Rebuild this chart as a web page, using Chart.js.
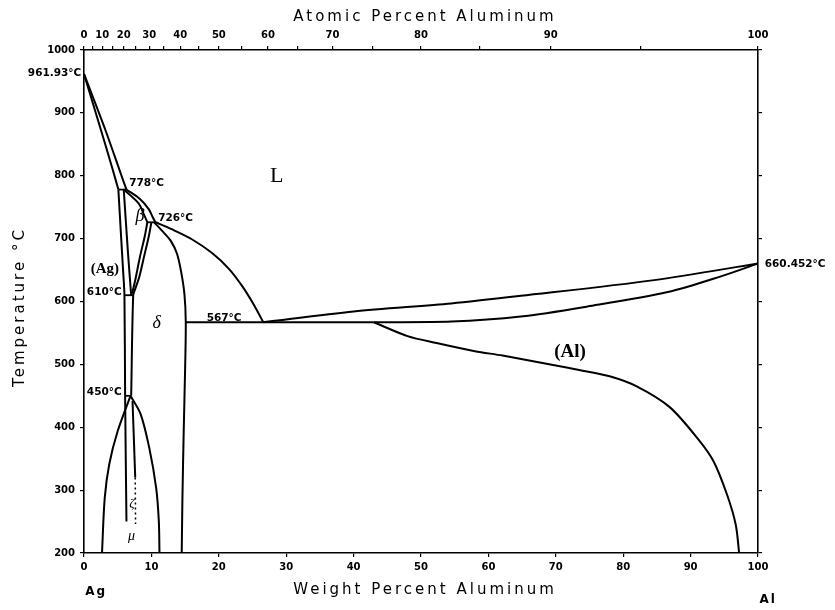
<!DOCTYPE html>
<html>
<head>
<meta charset="utf-8">
<title>Ag-Al</title>
<script src="https://cdn.jsdelivr.net/npm/chart.js@4.4.1/dist/chart.umd.min.js"></script>
<style>
  html, body { margin: 0; padding: 0; background: #fff; }
  canvas { display: block; }
</style>
</head>
<body>
<canvas id="phaseChart" width="835" height="610"></canvas>
<script>
// ===== tick labels =====
const weightTickLabels = [0, 10, 20, 30, 40, 50, 60, 70, 80, 90, 100];
const atomicTickLabels = [0, 10, 20, 30, 40, 50, 60, 70, 80, 90, 100];
const tempTickLabels = [200, 300, 400, 500, 600, 700, 800, 900, 1000];

// ===== phase boundaries, [wt% Al, °C] =====
const agLiquidus = [[0, 961.93], [3.2, 872], [5.5, 802], [6.3, 778]];
const agSolidus = [[0, 961.93], [2.2, 884], [4.2, 812], [5.1, 778]];
const agSolvus = [[5.1, 778], [5.45, 713], [5.8, 649], [6.0, 610], [6.1, 450], [6.3, 250]];
const betaLeft = [[5.9, 778], [6.5, 681], [7.0, 610]];
const betaLiquidus = [[6.3, 778], [8.3, 763], [9.6, 747], [10.2, 734], [10.6, 726]];
const betaSolidus = [[5.9, 778], [8.1, 756], [8.95, 737], [9.4, 726]];
const betaRight = [[9.4, 726], [9.0, 703], [8.3, 671], [7.7, 639], [7.3, 620], [7.0, 610]];
const deltaLeft = [[10.0, 726], [9.6, 703], [8.9, 671], [8.2, 639], [7.6, 620], [7.3, 610], [7.0, 450]];
const deltaLiquidus = [[10.6, 726], [13, 715], [16, 699], [19, 677], [21.5, 652], [23.5, 624], [25.3, 593], [26.6, 567]];
const deltaRight = [[10.4, 726], [11.8, 710], [12.9, 696], [13.8, 676], [14.4, 648], [14.9, 612], [15.1, 567],
  [15.0, 492], [14.8, 397], [14.6, 285], [14.5, 200]];
const lowLeft = [[6.9, 450], [5.0, 394], [3.76, 342], [3.08, 288], [2.67, 200]];
const lowRight = [[6.9, 450], [8.4, 421], [9.67, 368], [10.7, 304], [11.1, 251], [11.2, 200]];
const muLine = [[7.2, 442], [7.6, 320]];
const muDotted = [[7.6, 320], [7.65, 246]];
const alLiquidus = [[26.6, 567], [40, 584], [54.5, 597], [64.8, 609], [84.6, 634], [100, 660.452]];
const alSolidus = [[43, 567], [54.5, 568], [64.8, 576], [74.7, 592], [86.6, 615], [94.5, 640], [100, 660.452]];
const alSolvus = [[43, 567], [48, 545], [52.3, 534], [58, 521], [62.1, 514], [69.6, 499], [74, 490],
  [78, 481], [82, 465], [86.9, 432], [91.2, 380], [93.4, 346], [95.4, 293], [96.7, 245], [97.2, 200]];

// ===== invariant lines =====
const iso778 = [[5.1, 778], [6.3, 778]];
const iso726 = [[9.4, 726], [10.6, 726]];
const iso610 = [[6.0, 610], [7.3, 610]];
const iso450 = [[6.1, 450], [7.0, 450]];
const iso567 = [[15.1, 567], [43, 567]];

// ===== text in the plot =====
const phaseLabels = [
  { text: "L", wt: 28.6, t: 800, font: '22px "Liberation Serif"' },
  { text: "β", wt: 8.3, t: 735, font: 'italic 18px "Liberation Serif"' },
  { text: "(Ag)", wt: 3.1, t: 651, font: 'bold 15px "Liberation Serif"' },
  { text: "δ", wt: 10.8, t: 566, font: 'italic 18px "Liberation Serif"' },
  { text: "ζ", wt: 7.1, t: 278, font: 'italic 13px "Liberation Serif"' },
  { text: "μ", wt: 7.05, t: 227, font: 'italic 14px "Liberation Serif"' },
  { text: "(Al)", wt: 72.1, t: 520, font: 'bold 19px "Liberation Serif"' }
];
const tempLabels = [
  { text: "961.93°C", wt: -0.4, t: 963, align: "right" },
  { text: "778°C", wt: 6.7, t: 788, align: "left" },
  { text: "726°C", wt: 11.0, t: 732, align: "left" },
  { text: "610°C", wt: 5.6, t: 614, align: "right" },
  { text: "567°C", wt: 18.2, t: 574, align: "left" },
  { text: "450°C", wt: 5.6, t: 455, align: "right" },
  { text: "660.452°C", wt: 101, t: 660, align: "left" }
];

// atomic % Al -> weight % Al (Al 26.98, Ag 107.87)
function atomicToWeight(a) {
  const al = a * 26.98, ag = (100 - a) * 107.87;
  return 100 * al / (al + ag);
}

function boundary(points, extra) {
  return Object.assign({
    data: points.map(p => ({ x: p[0], y: p[1] })),
    borderColor: "#000",
    borderWidth: 2,
    pointRadius: 0,
    tension: 0.3,
    fill: false
  }, extra || {});
}

const curves = [agLiquidus, agSolidus, agSolvus, betaLeft, betaLiquidus, betaSolidus, betaRight,
  deltaLeft, deltaLiquidus, deltaRight, lowLeft, lowRight, muLine, alLiquidus, alSolidus, alSolvus];
const isotherms = [iso778, iso726, iso610, iso450, iso567];

const datasets = curves.map(c => boundary(c))
  .concat(isotherms.map(c => boundary(c, { tension: 0, borderWidth: 1.8 })))
  .concat([boundary(muDotted, { tension: 0, borderWidth: 1.5, borderDash: [2, 3] })]);

// top axis ticks: labelled every 10 at.%, plain marks at the 5s
const atomicMarks = [];
for (let a = 0; a <= 100; a += 5) {
  atomicMarks.push({ at: a, label: atomicTickLabels.includes(a) ? String(a) : "" });
}

const tickFont = { family: '"DejaVu Sans"', size: 10, weight: "bold" };
const black = "#000";

// ===== text plugin =====
const textPlugin = {
  id: "phaseText",
  afterDraw(chart) {
    const { ctx } = chart;
    const x = chart.scales.x, y = chart.scales.y;
    ctx.save();
    ctx.fillStyle = black;
    ctx.textBaseline = "middle";

    phaseLabels.forEach(l => {
      ctx.font = l.font;
      ctx.textAlign = "center";
      ctx.fillText(l.text, x.getPixelForValue(l.wt), y.getPixelForValue(l.t));
    });

    ctx.font = 'bold 10.5px "DejaVu Sans"';
    tempLabels.forEach(l => {
      ctx.textAlign = l.align;
      ctx.fillText(l.text, x.getPixelForValue(l.wt), y.getPixelForValue(l.t));
    });

    // axis titles, spaced out
    ctx.font = '15px "DejaVu Sans"';
    ctx.letterSpacing = "3px";
    ctx.textAlign = "center";
    const midX = (chart.chartArea.left + chart.chartArea.right) / 2 + 4;
    ctx.fillText("Atomic Percent Aluminum", midX, 17);
    ctx.fillText("Weight Percent Aluminum", midX, 590);
    ctx.save();
    ctx.translate(20, 307);
    ctx.rotate(-Math.PI / 2);
    ctx.fillText("Temperature °C", 0, 0);
    ctx.restore();

    ctx.font = 'bold 12px "DejaVu Sans"';
    ctx.letterSpacing = "2px";
    ctx.fillText("Ag", x.getPixelForValue(1.8), 592);
    ctx.fillText("Al", x.getPixelForValue(101.5), 600);
    ctx.restore();
  }
};

new Chart(document.getElementById("phaseChart"), {
  type: "line",
  data: { datasets: datasets },
  options: {
    responsive: false,
    animation: false,
    layout: { padding: 0 },
    plugins: { legend: { display: false }, tooltip: { enabled: false } },
    scales: {
      x: {
        type: "linear",
        position: "bottom",
        min: 0, max: 100,
        afterBuildTicks: s => { s.ticks = weightTickLabels.map(v => ({ value: v })); },
        afterFit: s => { s.height = 57; },
        ticks: { autoSkip: false, maxRotation: 0, padding: 4, color: black, font: tickFont,
          callback: v => String(v) },
        grid: { drawOnChartArea: false, tickLength: 4, color: black, lineWidth: 1.2 },
        border: { color: black, width: 1.6 }
      },
      xTop: {
        type: "linear",
        position: "top",
        min: 0, max: 100,
        afterBuildTicks: s => { s.ticks = atomicMarks.map(m => ({ value: atomicToWeight(m.at) })); },
        afterFit: s => { s.height = 50; },
        ticks: {
          autoSkip: false, maxRotation: 0, padding: 5, color: black, font: tickFont,
          callback: (v, i) => atomicMarks[i] ? atomicMarks[i].label : ""
        },
        grid: { drawOnChartArea: false, tickLength: 4, color: black, lineWidth: 1.2 },
        border: { color: black, width: 1.6 }
      },
      y: {
        type: "linear",
        position: "left",
        min: 200, max: 1000,
        afterBuildTicks: s => { s.ticks = tempTickLabels.map(v => ({ value: v })); },
        afterFit: s => { s.width = 84; },
        ticks: { autoSkip: false, padding: 5, color: black, font: tickFont,
          callback: v => String(v) },
        grid: { drawOnChartArea: false, tickLength: 4, color: black, lineWidth: 1.2 },
        border: { color: black, width: 1.6, dash: [1.5, 2.5] }
      },
      yRight: {
        type: "linear",
        position: "right",
        min: 200, max: 1000,
        afterBuildTicks: s => { s.ticks = tempTickLabels.map(v => ({ value: v })); },
        afterFit: s => { s.width = 77; },
        ticks: { display: false },
        grid: { drawOnChartArea: false, tickLength: 4, color: black, lineWidth: 1.2 },
        border: { color: black, width: 1.6, dash: [1.5, 2.5] }
      }
    }
  },
  plugins: [textPlugin]
});
</script>
</body>
</html>
